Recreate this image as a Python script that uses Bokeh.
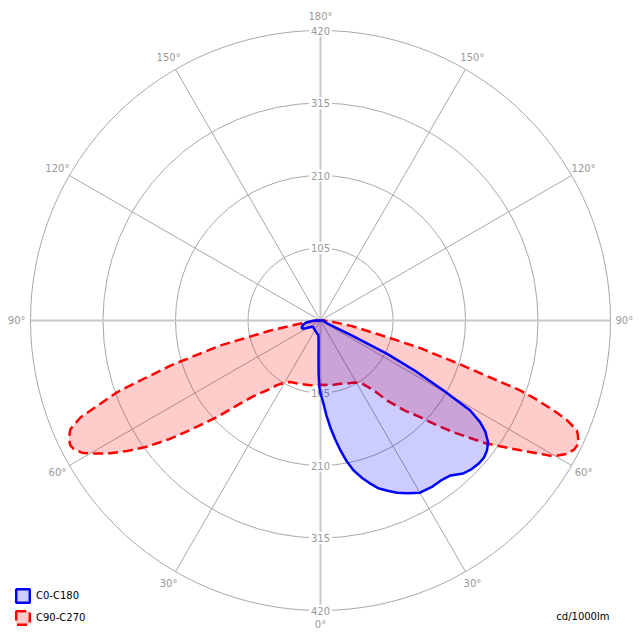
import numpy as np
from bokeh.plotting import figure
from bokeh.models import Legend, LegendItem, Label
from bokeh.embed import file_html
from bokeh.resources import INLINE
from bokeh.core.properties import value

# ---- data ----
ring_values = [105, 210, 315, 420]
ring_labels = ["105", "210", "315", "420"]
spoke_minor = [-150, -120, -60, -30, 30, 60, 120, 150]
degree_angles = [0, 30, 60, 90, 120, 150, 180, -30, -60, -90, -120, -150]
degree_labels = ["0°", "30°", "60°", "90°", "120°", "150°", "180°",
                 "30°", "60°", "90°", "120°", "150°"]
r_max = 420
label_radius = 440

# C0-C180 plane (gamma from nadir, negative = C180 side)
c0_gamma = [-90, -86, -82, -76, -70, -66, -62, -56, -48, -40, -30, -20, -14, -10,
            -7, -5, -4, -3, -2, -1, 0, 1, 2, 3.5, 5.3, 7, 8.7, 10.5, 12.4, 15,
            17, 19, 21.5, 24, 26.7, 30, 34, 37, 40, 43, 45.5, 48, 50, 52, 54,
            56, 57.5, 59, 60.4, 62, 63.4, 64.5, 66, 70, 80, 90]
c0_cd = [8, 13, 21, 26, 29, 29, 24, 17, 14, 15, 16, 18, 20, 20,
         24, 32, 40, 55, 78, 96, 106, 112, 120, 137, 156, 173, 190, 207, 222, 237,
         247, 257, 265, 273, 280, 288, 290, 290, 293, 303, 307, 309, 309, 306, 300,
         288, 274, 253, 205, 155, 108, 50, 12, 7, 5, 4]

# C90-C270 plane
c90_gamma = [-90, -86, -82.7, -80, -78.7, -76, -73.3, -70.6, -68, -66.5, -65, -63.5,
             -62.5, -61, -60, -58, -56, -54, -52, -50, -47, -44, -40.5, -37.3, -34,
             -30, -26, -19, -9, 0, 9, 17.5, 23, 28.4, 33, 37.3, 39.8, 43, 45.9, 48,
             50, 53.5, 57, 59.8, 61.6, 63, 64.5, 66, 66.8, 68, 68.9, 70, 70.7, 72.6,
             74.5, 76, 80, 85, 90]
c90_cd = [5, 10, 19, 45, 74, 149, 227, 312, 375, 395, 402, 405,
          403, 395, 385, 364, 338, 311, 280, 247, 205, 167, 140, 127, 113,
          104, 99, 97, 95, 93, 95, 96, 99, 102, 108, 127, 151, 178, 201, 227,
          252, 300, 345, 391, 406, 412, 414, 408, 404, 385, 362, 330, 307, 210,
          150, 100, 45, 15, 5]


def to_xy(gamma, cd):
    g = np.radians(np.asarray(gamma, dtype=float))
    r = np.asarray(cd, dtype=float)
    return r * np.sin(g), -r * np.cos(g)


R = 320 * 420 / 290.0
p = figure(width=640, height=640, x_range=(-R, R), y_range=(-R, R),
           output_backend="svg", toolbar_location=None, min_border=0,
           x_axis_type=None, y_axis_type=None)
p.grid.visible = False
p.outline_line_color = None
p.background_fill_color = "white"
p.border_fill_color = "white"

grid_col = "#a8a8a8"
# rings
p.circle(x=[0] * len(ring_values), y=[0] * len(ring_values), radius=ring_values,
         fill_color=None, line_color=grid_col, line_width=1)
# minor spokes
sg = np.radians(spoke_minor)
p.segment(x0=[0] * len(sg), y0=[0] * len(sg), x1=r_max * np.sin(sg), y1=-r_max * np.cos(sg),
          line_color=grid_col, line_width=1)
# main axes
p.segment(x0=[0, -r_max], y0=[-r_max, 0], x1=[0, r_max], y1=[r_max, 0],
          line_color="#c8c8c8", line_width=2)

# degree labels
dx, dy = to_xy(degree_angles, [label_radius] * len(degree_angles))
p.text(x=dx, y=dy, text=degree_labels, text_align="center", text_baseline="middle",
       text_color="#999999", text_font=value("DejaVu Sans"), text_font_size="10px")

# ring labels on vertical axis (top and bottom)
rl_x = [0] * (2 * len(ring_values))
rl_y = list(ring_values) + [-v for v in ring_values]
rl_t = ring_labels + ring_labels
p.text(x=rl_x, y=rl_y, text=rl_t, text_align="center", text_baseline="middle",
       text_color="#999999", text_font=value("DejaVu Sans"), text_font_size="10px",
       background_fill_color="white", padding=2)

# curves
rx, ry = to_xy(c90_gamma, c90_cd)
red_r = p.patch(x=rx, y=ry, fill_color="#ff0000", fill_alpha=0.2,
                line_color="#ff0000", line_width=2.5, line_dash="10 5")
bx, by = to_xy(c0_gamma, c0_cd)
blue_r = p.patch(x=bx, y=by, fill_color="#0000ff", fill_alpha=0.2,
                 line_color="#0000ff", line_width=2.5)

legend = Legend(items=[LegendItem(label="C0-C180", renderers=[blue_r]),
                       LegendItem(label="C90-C270", renderers=[red_r])],
                location=(14, 14), orientation="vertical", padding=0, margin=0,
                spacing=5, glyph_width=17, glyph_height=17, label_height=17,
                label_standoff=5, label_text_font_size="10px",
                label_text_font="DejaVu Sans", label_text_color="black",
                border_line_color=None, background_fill_alpha=0)
p.add_layout(legend)

unit = Label(x=609, y=24, x_units="screen", y_units="screen", text="cd/1000lm",
             text_align="right", text_baseline="middle", text_font_size="10px",
             text_font="DejaVu Sans", text_color="black")
p.add_layout(unit)

open("out.html", "w").write(file_html(p, INLINE))
